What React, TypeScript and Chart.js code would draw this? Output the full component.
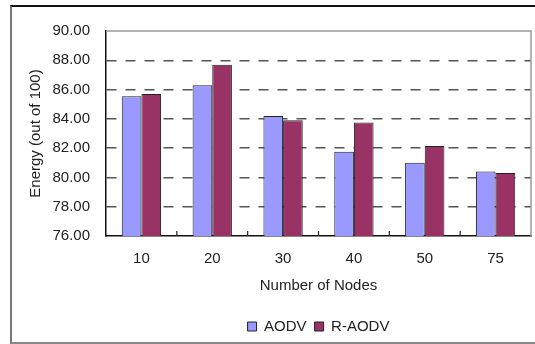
import React, { useEffect, useRef } from "react";
import { Chart, registerables } from "chart.js";

Chart.register(...registerables);

const categories = ["10", "20", "30", "40", "50", "75"];
const aodv = [85.55, 86.3, 84.2, 81.75, 81.0, 80.4];
const raodv = [85.7, 87.7, 83.9, 83.75, 82.15, 80.3];
const seriesNames = ["AODV", "R-AODV"];
const yMin = 76;
const yMax = 90;
const yStep = 2;

const FONT = "'Liberation Sans', Arial, sans-serif";

const framePlugin = {
  id: "frame",
  afterDraw(chart: any) {
    const { ctx, chartArea } = chart;
    const { left, right, top, bottom } = chartArea;
    ctx.save();
    ctx.strokeStyle = "#999";
    ctx.lineWidth = 1.5;
    ctx.beginPath();
    ctx.moveTo(left, top);
    ctx.lineTo(right, top);
    ctx.lineTo(right, bottom);
    ctx.stroke();
    // category boundary ticks along the bottom axis
    const xs = chart.scales.x;
    ctx.strokeStyle = "#222";
    ctx.lineWidth = 1.2;
    for (let i = 1; i < categories.length; i++) {
      const b = (xs.getPixelForTick(i - 1) + xs.getPixelForTick(i)) / 2;
      ctx.beginPath();
      ctx.moveTo(b, bottom);
      ctx.lineTo(b, bottom - 5);
      ctx.stroke();
    }
    ctx.restore();
  },
};

export default function App() {
  const ref = useRef<HTMLCanvasElement>(null);
  useEffect(() => {
    if (!ref.current) return;
    const chart = new Chart(ref.current, {
      type: "bar",
      data: {
        labels: categories,
        datasets: [
          {
            label: seriesNames[0],
            data: aodv,
            backgroundColor: "#9999FF",
            borderColor: "#222",
            borderWidth: 1,
            borderSkipped: false,
          },
          {
            label: seriesNames[1],
            data: raodv,
            backgroundColor: "#993366",
            borderColor: "#222",
            borderWidth: 1,
            borderSkipped: false,
          },
        ],
      },
      options: {
        responsive: false,
        animation: false,
        layout: { padding: { top: 31, right: 4, left: 0, bottom: 0 } },
        datasets: {
          bar: { barPercentage: 1, categoryPercentage: 0.555 },
        },
        scales: {
          x: {
            grid: { display: false, drawTicks: false },
            border: { display: true, color: "#111", width: 1.5 },
            ticks: { color: "#222", font: { family: FONT, size: 15 }, padding: 14 },
            title: {
              display: true,
              text: "Number of Nodes",
              color: "#222",
              font: { family: FONT, size: 15 },
              padding: { top: 0, bottom: 16 },
            },
            afterFit: (s: any) => {
              s.height = 75;
            },
          },
          y: {
            min: yMin,
            max: yMax,
            ticks: {
              stepSize: yStep,
              color: "#222",
              font: { family: FONT, size: 15 },
              padding: 16,
              callback: (v: any) => Number(v).toFixed(2),
            },
            grid: {
              drawTicks: false,
              lineWidth: 1.5,
              color: (c: any) =>
                c.tick && (c.tick.value === yMin || c.tick.value === yMax) ? "rgba(0,0,0,0)" : "#555",
            },
            border: { display: true, color: "#111", width: 1.5, dash: [10, 9] },
            title: {
              display: true,
              text: "Energy (out of 100)",
              color: "#222",
              font: { family: FONT, size: 15 },
              padding: { top: 27, bottom: 0 },
            },
            afterFit: (s: any) => {
              s.width = 106;
            },
          },
        },
        plugins: {
          legend: {
            position: "bottom",
            fullSize: false,
            labels: {
              boxWidth: 9,
              boxHeight: 9,
              padding: 8,
              color: "#222",
              font: { family: FONT, size: 15 },
            },
          },
          tooltip: { enabled: false },
        },
      },
      plugins: [framePlugin],
    });
    return () => chart.destroy();
  }, []);
  return (
    <div style={{ position: "absolute", left: 0, top: 0, width: 535, height: 344, overflow: "hidden", background: "#fff" }}>
      <div
        style={{
          position: "absolute",
          left: 10,
          top: 5,
          width: 540,
          height: 335,
          borderTop: "2px solid #111",
          borderLeft: "2px solid #777",
          borderBottom: "2px solid #888",
        }}
      />
      <canvas ref={ref} width={535} height={344} style={{ position: "absolute", left: 0, top: 0 }} />
    </div>
  );
}
